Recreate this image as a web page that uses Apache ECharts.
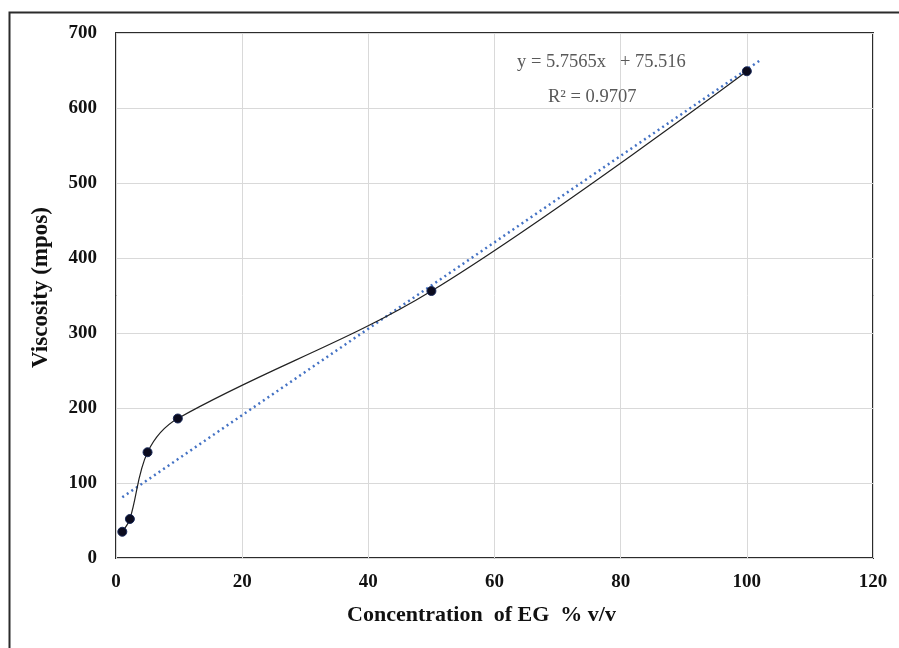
<!DOCTYPE html>
<html>
<head>
<meta charset="utf-8">
<script src="https://cdn.jsdelivr.net/npm/echarts@6/dist/echarts.min.js"></script>
<style>
html,body{margin:0;padding:0;background:#fff;}
#c{width:899px;height:648px;}
</style>
</head>
<body>
<div id="c"></div>
<script>
var concentration = [1, 2.2, 5, 9.8, 50, 100];
var viscosity = [35, 52, 141, 186, 356, 649];
var trendX = [1, 102];
var trendY = [81, 663];
var equationText = 'y = 5.7565x   + 75.516';
var r2Text = 'R\u00b2 = 0.9707';
var xTitle = 'Concentration  of EG  % v/v';
var yTitle = 'Viscosity (mpos)';

var pts = concentration.map(function(x, i){ return [x, viscosity[i]]; });
var trend = trendX.map(function(x, i){ return [x, trendY[i]]; });

var chart = echarts.init(document.getElementById('c'));
var serif = '"Liberation Serif", "Times New Roman", serif';
chart.setOption({
  animation: false,
  backgroundColor: '#fff',
  grid: {left: 116, top: 33, right: 26, bottom: 90, show: true, borderColor: '#2b2b2b', borderWidth: 2},
  xAxis: {
    type: 'value', min: 0, max: 120, interval: 20,
    name: xTitle, nameLocation: 'middle', nameGap: 46,
    nameTextStyle: {fontFamily: serif, fontWeight: 'bold', fontSize: 22, color: '#111', padding: [0, 26, 0, 0]},
    axisLine: {show: false}, axisTick: {show: false},
    axisLabel: {fontFamily: serif, fontWeight: 'bold', fontSize: 19, color: '#111', margin: 15},
    splitLine: {lineStyle: {color: '#d9d9d9', width: 1}}
  },
  yAxis: {
    type: 'value', min: 0, max: 700, interval: 100,
    name: yTitle, nameLocation: 'middle', nameGap: 63, nameRotate: 90,
    nameTextStyle: {fontFamily: serif, fontWeight: 'bold', fontSize: 23, color: '#111', padding: [0, 0, 0, 16]},
    axisLine: {show: false}, axisTick: {show: false},
    axisLabel: {fontFamily: serif, fontWeight: 'bold', fontSize: 19, color: '#111', margin: 19},
    splitLine: {lineStyle: {color: '#d9d9d9', width: 1}}
  },
  series: [
    {
      type: 'line', data: trend, symbol: 'none', z: 3,
      lineStyle: {color: '#4472c4', width: 2.5, type: [2, 3.5]}
    },
    {
      type: 'line', data: pts, smooth: 0.35, symbol: 'circle', symbolSize: 9, z: 4,
      lineStyle: {color: '#222', width: 1.2},
      itemStyle: {color: '#0b0b1e', borderColor: '#1a2a5a', borderWidth: 1}
    }
  ],
  graphic: [
    {type: 'rect', left: 7, top: 10, shape: {width: 1000, height: 1000}, silent: true, z: -10,
     style: {fill: 'none', stroke: '#2b2b2b', lineWidth: 2}},
    {type: 'text', left: 517, top: 53, z: 10,
     style: {text: equationText, fontFamily: serif, fontSize: 18.5, fill: '#595959'}},
    {type: 'text', left: 548, top: 88, z: 10,
     style: {text: r2Text, fontFamily: serif, fontSize: 18.5, fill: '#595959'}}
  ]
});
</script>
</body>
</html>
